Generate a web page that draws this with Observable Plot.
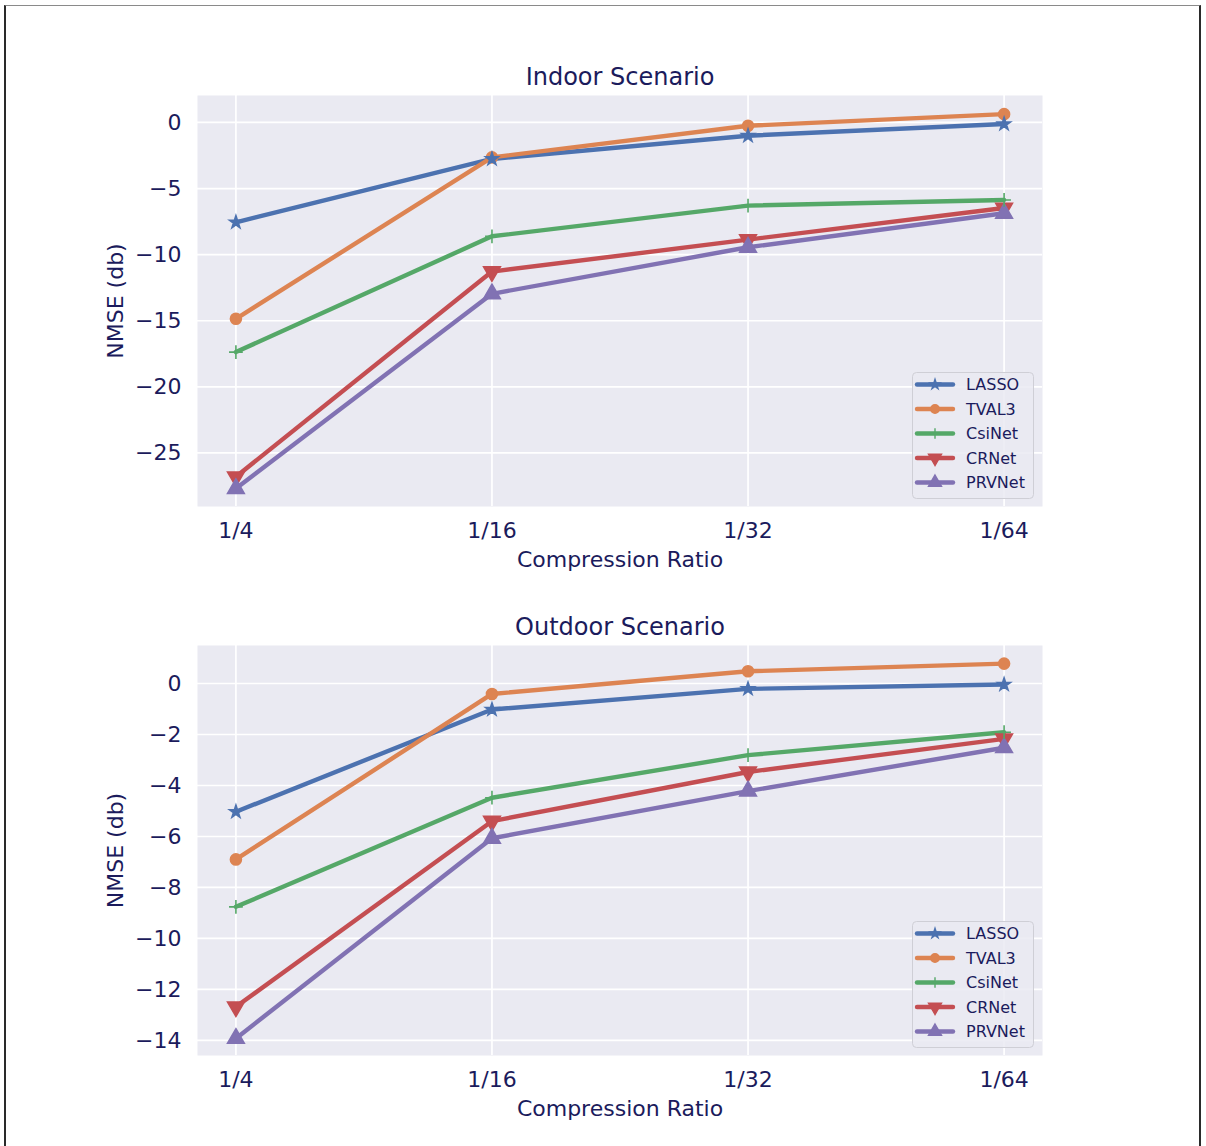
<!DOCTYPE html>
<html>
<head>
<meta charset="utf-8">
<script src="https://cdn.jsdelivr.net/npm/d3@7"></script>
<script src="https://cdn.jsdelivr.net/npm/@observablehq/plot@0.6"></script>
<style>
  html, body { margin: 0; padding: 0; background: #ffffff; }
  #wrap { position: relative; width: 1206px; height: 1146px; overflow: hidden; background: #fff; }
  .panel { position: absolute; left: 0; }
  .legend { position: absolute; }
  #border { position: absolute; left: 4px; top: 5px; width: 1197px; height: 1200px;
            border-top: 1px solid #8a8a8a; border-left: 2px solid #2a2a2a; border-right: 2px solid #2a2a2a;
            pointer-events: none; box-sizing: border-box; }
</style>
</head>
<body>
<div id="wrap"></div>
<script>
// ---------- data ----------
const ratios = ["1/4", "1/16", "1/32", "1/64"];
const seriesNames = ["LASSO", "TVAL3", "CsiNet", "CRNet", "PRVNet"];
const seriesColors = ["#4C72B0", "#DD8452", "#55A868", "#C44E52", "#8172B3"];
const seriesSymbols = ["star", "circle", "plus", "triangle", "triangle"];
const seriesMarkerR = [4, 5.5, 4.5, 6.2, 6.2];

const indoorLASSO  = [-7.55, -2.76, -1.00, -0.12];
const indoorTVAL3  = [-14.85, -2.64, -0.25, 0.63];
const indoorCsiNet = [-17.37, -8.61, -6.29, -5.86];
const indoorCRNet  = [-26.80, -11.28, -8.86, -6.47];
const indoorPRVNet = [-27.69, -12.96, -9.44, -6.87];

const outdoorLASSO  = [-5.03, -1.02, -0.21, -0.04];
const outdoorTVAL3  = [-6.90, -0.41, 0.48, 0.78];
const outdoorCsiNet = [-8.76, -4.48, -2.81, -1.91];
const outdoorCRNet  = [-12.68, -5.40, -3.47, -2.17];
const outdoorPRVNet = [-13.92, -6.07, -4.22, -2.52];

const indoorYTicks = [0, -5, -10, -15, -20, -25];
const outdoorYTicks = [0, -2, -4, -6, -8, -10, -12, -14];

const indoorTitle = "Indoor Scenario";
const outdoorTitle = "Outdoor Scenario";
const xLabel = "Compression Ratio";
const yLabel = "NMSE (db)";

// ---------- helpers ----------
const textColor = "#1b1b5c";
const fmt = d3.format("d");

function toRows(seriesValues) {
  const rows = [];
  seriesNames.forEach((s, si) => {
    seriesValues[si].forEach((v, i) => rows.push({series: s, xi: i, v, r: seriesMarkerR[si]}));
  });
  return rows;
}

function makePlot({rows, title, yDomain, yTicks, height, marginTop, marginBottom}) {
  return Plot.plot({
    width: 1206,
    height,
    marginTop,
    marginBottom,
    marginLeft: 197,
    marginRight: 164,
    style: {fontFamily: "DejaVu Sans", fontSize: "22px", color: textColor, background: "transparent", overflow: "visible"},
    x: {domain: [-0.15, 3.15]},
    y: {domain: yDomain},
    r: {type: "identity"},
    color: {domain: seriesNames, range: seriesColors},
    symbol: {domain: seriesNames, range: seriesSymbols},
    marks: [
      Plot.frame({fill: "#EAEAF2", stroke: null}),
      Plot.gridX({ticks: [0, 1, 2, 3], stroke: "#ffffff", strokeOpacity: 1, strokeWidth: 1.7}),
      Plot.gridY({ticks: yTicks, stroke: "#ffffff", strokeOpacity: 1, strokeWidth: 1.7}),
      Plot.axisX({ticks: [0, 1, 2, 3], tickFormat: i => ratios[i], tickSize: 0, tickPadding: 16, fontSize: 22, label: null}),
      Plot.axisY({ticks: yTicks, tickFormat: fmt, tickSize: 0, tickPadding: 16, fontSize: 22, label: null}),
      Plot.line(rows, {x: "xi", y: "v", z: "series", stroke: "series", strokeWidth: 4.4, strokeLinejoin: "round", strokeLinecap: "round"}),
      Plot.dot(rows, {
        x: "xi", y: "v", symbol: "series", fill: "series", stroke: "series",
        r: "r", strokeWidth: 1.6,
        rotate: d => d.series === "CRNet" ? 180 : 0
      }),
      Plot.text([title], {text: d => d, frameAnchor: "top", lineAnchor: "middle", dy: -18, fontSize: 24, fill: textColor}),
      Plot.text([xLabel], {text: d => d, frameAnchor: "bottom", lineAnchor: "middle", dy: 53, fontSize: 22, fill: textColor}),
      Plot.text([yLabel], {text: d => d, frameAnchor: "left", textAnchor: "middle", lineAnchor: "middle", dx: -82, rotate: -90, fontSize: 22, fill: textColor})
    ]
  });
}

function makeLegend(left, top) {
  const w = 121, h = 126;
  const div = document.createElement("div");
  div.className = "legend";
  div.style.left = left + "px";
  div.style.top = top + "px";
  const svg = d3.create("svg").attr("width", w + 2).attr("height", h + 2)
    .style("font-family", "DejaVu Sans").style("font-size", "16px");
  svg.append("rect").attr("x", 0.5).attr("y", 0.5).attr("width", w).attr("height", h)
    .attr("rx", 4).attr("fill", "#EAEAF2").attr("fill-opacity", 0.85)
    .attr("stroke", "#cfcfd6").attr("stroke-width", 1);
  const symMap = {star: d3.symbolStar, circle: d3.symbolCircle, plus: d3.symbolPlus, triangle: d3.symbolTriangle};
  seriesNames.forEach((s, i) => {
    const y = 12.5 + i * 24.5;
    const g = svg.append("g").attr("transform", `translate(0,${y})`);
    g.append("line").attr("x1", 5).attr("x2", 41).attr("y1", 0).attr("y2", 0)
      .attr("stroke", seriesColors[i]).attr("stroke-width", 4.4).attr("stroke-linecap", "round");
    const rr = seriesMarkerR[i] * 0.78;
    g.append("path").attr("d", d3.symbol(symMap[seriesSymbols[i]], Math.PI * rr * rr)())
      .attr("transform", `translate(23,0) rotate(${s === "CRNet" ? 180 : 0})`)
      .attr("fill", seriesColors[i]).attr("stroke", seriesColors[i]).attr("stroke-width", 1.4);
    g.append("text").attr("x", 54).attr("y", 0).attr("dy", "0.36em")
      .attr("fill", textColor).text(s);
  });
  div.appendChild(svg.node());
  return div;
}

// ---------- build ----------
const wrap = document.getElementById("wrap");

const p1 = makePlot({
  rows: toRows([indoorLASSO, indoorTVAL3, indoorCsiNet, indoorCRNet, indoorPRVNet]),
  title: indoorTitle, yDomain: [-29.05, 2.04], yTicks: indoorYTicks,
  height: 580, marginTop: 95, marginBottom: 74
});
const d1 = document.createElement("div"); d1.className = "panel"; d1.style.top = "0px";
d1.appendChild(p1); wrap.appendChild(d1);

const p2 = makePlot({
  rows: toRows([outdoorLASSO, outdoorTVAL3, outdoorCsiNet, outdoorCRNet, outdoorPRVNet]),
  title: outdoorTitle, yDomain: [-14.59, 1.49], yTicks: outdoorYTicks,
  height: 566, marginTop: 65, marginBottom: 91
});
const d2 = document.createElement("div"); d2.className = "panel"; d2.style.top = "580px";
d2.appendChild(p2); wrap.appendChild(d2);

wrap.appendChild(makeLegend(912, 372));
wrap.appendChild(makeLegend(912, 921));

const border = document.createElement("div"); border.id = "border"; wrap.appendChild(border);
</script>
</body>
</html>
